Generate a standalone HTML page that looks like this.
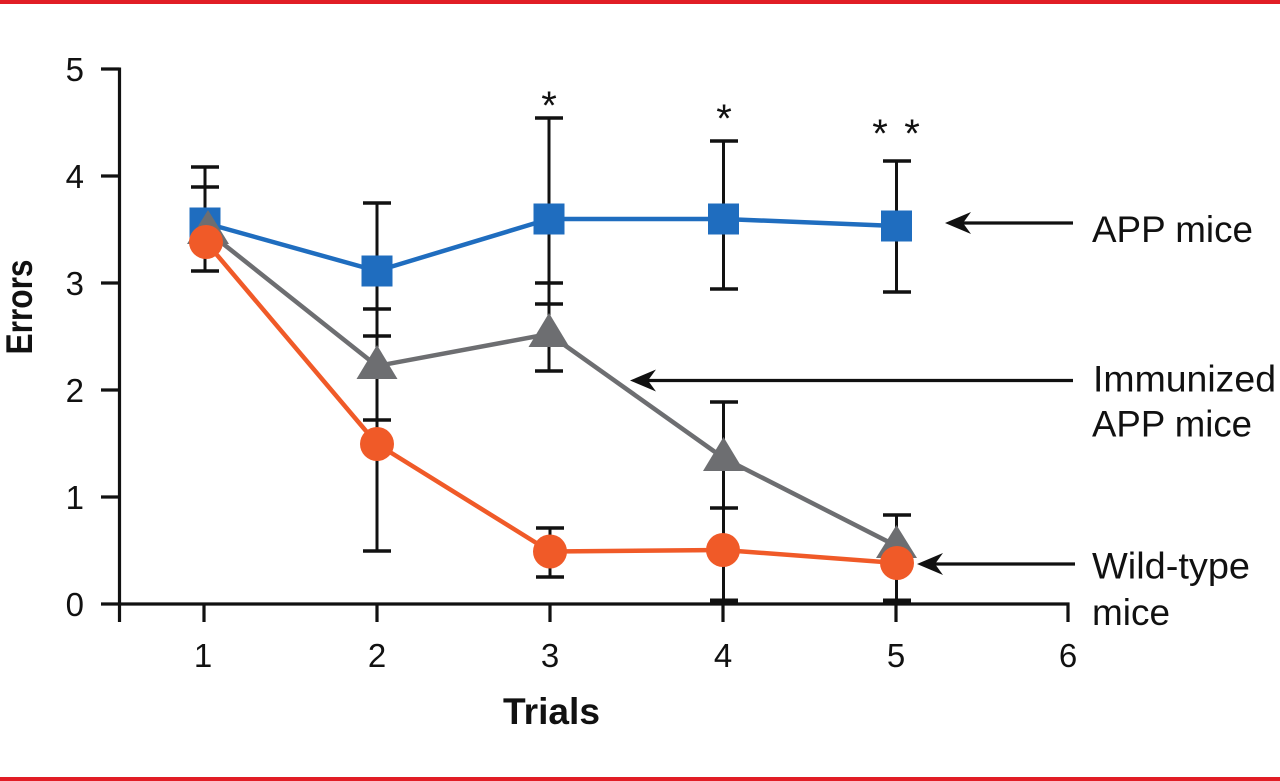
<!DOCTYPE html>
<html>
<head>
<meta charset="utf-8">
<style>
html,body{margin:0;padding:0;background:#fff;}
svg{display:block;}
text{font-family:"Liberation Sans",Arial,sans-serif;fill:#111;}
</style>
</head>
<body>
<svg width="1280" height="781" viewBox="0 0 1280 781" xmlns="http://www.w3.org/2000/svg">
<rect x="0" y="0" width="1280" height="781" fill="#ffffff"/>
<rect x="0" y="0" width="1280" height="4" fill="#e11d25"/>
<rect x="0" y="777" width="1280" height="4" fill="#e11d25"/>

<!-- axes -->
<g stroke="#111" stroke-width="3.2" fill="none" stroke-linecap="butt">
  <line x1="119.5" y1="67.5" x2="119.5" y2="622"/>
  <line x1="101" y1="604" x2="1069.5" y2="604"/>
  <line x1="101" y1="69" x2="119.5" y2="69"/>
  <line x1="101" y1="176" x2="119.5" y2="176"/>
  <line x1="101" y1="283" x2="119.5" y2="283"/>
  <line x1="101" y1="390" x2="119.5" y2="390"/>
  <line x1="101" y1="497" x2="119.5" y2="497"/>
  <line x1="204" y1="604" x2="204" y2="622"/>
  <line x1="377" y1="604" x2="377" y2="622"/>
  <line x1="550" y1="604" x2="550" y2="622"/>
  <line x1="723" y1="604" x2="723" y2="622"/>
  <line x1="896" y1="604" x2="896" y2="622"/>
  <line x1="1068" y1="602.5" x2="1068" y2="622"/>
</g>

<!-- tick labels -->
<g font-size="33" text-anchor="end">
  <text x="84" y="81">5</text>
  <text x="84" y="188">4</text>
  <text x="84" y="295">3</text>
  <text x="84" y="402">2</text>
  <text x="84" y="509">1</text>
  <text x="84" y="616">0</text>
</g>
<g font-size="33" text-anchor="middle">
  <text x="203" y="667">1</text>
  <text x="377" y="667">2</text>
  <text x="550" y="667">3</text>
  <text x="723" y="667">4</text>
  <text x="896" y="667">5</text>
  <text x="1068" y="667">6</text>
</g>

<!-- axis titles -->
<text x="503" y="724" font-size="37" font-weight="bold" textLength="97" lengthAdjust="spacingAndGlyphs">Trials</text>
<text transform="translate(32,307) rotate(-90)" x="0" y="0" font-size="37" font-weight="bold" text-anchor="middle" textLength="95" lengthAdjust="spacingAndGlyphs">Errors</text>

<!-- error bars -->
<g stroke="#111" stroke-width="3" fill="none">
  <!-- trial 1 -->
  <line x1="205" y1="167" x2="205" y2="271"/>
  <line x1="191" y1="167" x2="219" y2="167" stroke-width="3.5"/>
  <line x1="191" y1="187" x2="219" y2="187" stroke-width="3.5"/>
  <line x1="191" y1="271" x2="219" y2="271" stroke-width="3.5"/>
  <!-- trial 2 -->
  <line x1="377" y1="203" x2="377" y2="551"/>
  <line x1="363" y1="203" x2="391" y2="203" stroke-width="3.5"/>
  <line x1="363" y1="309" x2="391" y2="309" stroke-width="3.5"/>
  <line x1="363" y1="336" x2="391" y2="336" stroke-width="3.5"/>
  <line x1="363" y1="420" x2="391" y2="420" stroke-width="3.5"/>
  <line x1="363" y1="551" x2="391" y2="551" stroke-width="3.5"/>
  <!-- trial 3 -->
  <line x1="549" y1="118" x2="549" y2="371"/>
  <line x1="535" y1="118" x2="563" y2="118" stroke-width="3.5"/>
  <line x1="535" y1="283" x2="563" y2="283" stroke-width="3.5"/>
  <line x1="535" y1="304" x2="563" y2="304" stroke-width="3.5"/>
  <line x1="535" y1="371" x2="563" y2="371" stroke-width="3.5"/>
  <line x1="550" y1="528" x2="550" y2="577"/>
  <line x1="536" y1="528" x2="564" y2="528" stroke-width="3.5"/>
  <line x1="536" y1="577" x2="564" y2="577" stroke-width="3.5"/>
  <!-- trial 4 -->
  <line x1="723.5" y1="141" x2="723.5" y2="289"/>
  <line x1="710" y1="141" x2="738" y2="141" stroke-width="3.5"/>
  <line x1="710" y1="289" x2="738" y2="289" stroke-width="3.5"/>
  <line x1="723.5" y1="402" x2="723.5" y2="602"/>
  <line x1="710" y1="402" x2="738" y2="402" stroke-width="3.5"/>
  <line x1="710" y1="508" x2="738" y2="508" stroke-width="3.5"/>
  <line x1="710" y1="601" x2="738" y2="601" stroke-width="5"/>
  <!-- trial 5 -->
  <line x1="896.5" y1="161" x2="896.5" y2="292"/>
  <line x1="883" y1="161" x2="911" y2="161" stroke-width="3.5"/>
  <line x1="883" y1="292" x2="911" y2="292" stroke-width="3.5"/>
  <line x1="896.5" y1="515" x2="896.5" y2="602"/>
  <line x1="883" y1="515" x2="911" y2="515" stroke-width="3.5"/>
  <line x1="883" y1="601" x2="911" y2="601" stroke-width="5"/>
</g>

<!-- asterisks -->
<g font-size="40" text-anchor="middle">
  <text x="549" y="119">*</text>
  <text x="724" y="132">*</text>
  <text x="880" y="147">*</text>
  <text x="912" y="147">*</text>
</g>

<!-- series lines -->
<polyline points="205,223 377,271 549,219 723.5,219 896.5,226" fill="none" stroke="#1f6dbf" stroke-width="4.5" stroke-linejoin="round"/>
<polyline points="207,231 377,366 549,334 723.5,458 896.5,546" fill="none" stroke="#6d6e71" stroke-width="4.5" stroke-linejoin="round"/>
<polyline points="206,242 377,444 550,551.5 723,550 897,563" fill="none" stroke="#f05a28" stroke-width="4.5" stroke-linejoin="round"/>

<!-- blue squares -->
<g fill="#1f6dbf">
  <rect x="189.5" y="207.5" width="31" height="31"/>
  <rect x="361.5" y="255.5" width="31" height="31"/>
  <rect x="533.5" y="203.5" width="31" height="31"/>
  <rect x="708" y="203.5" width="31" height="31"/>
  <rect x="881" y="210.5" width="31" height="31"/>
</g>
<!-- gray triangles -->
<g fill="#6d6e71">
  <polygon points="208,210 229,244 187,244"/>
  <polygon points="377,345 397.5,379 356.5,379"/>
  <polygon points="549,313 569.5,347 528.5,347"/>
  <polygon points="723.5,437 744,471 703,471"/>
  <polygon points="896.5,525 917,558 876,558"/>
</g>
<!-- orange circles -->
<g fill="#f05a28">
  <circle cx="206" cy="242" r="17"/>
  <circle cx="377" cy="444" r="17"/>
  <circle cx="550" cy="551.5" r="17"/>
  <circle cx="723" cy="550" r="17"/>
  <circle cx="897" cy="563" r="17"/>
</g>

<!-- arrows -->
<g stroke="#111" stroke-width="3.2">
  <line x1="960" y1="223" x2="1073" y2="223"/>
  <line x1="645" y1="380.5" x2="1073" y2="380.5"/>
  <line x1="932" y1="564" x2="1075" y2="564"/>
</g>
<g fill="#111">
  <path d="M945,223 L971,212 L963,223 L971,234 Z"/>
  <path d="M630,380.5 L656,369.5 L648,380.5 L656,391.5 Z"/>
  <path d="M917,564 L943,553 L935,564 L943,575 Z"/>
</g>

<!-- legend labels -->
<g font-size="37">
  <text x="1092" y="242" textLength="161" lengthAdjust="spacingAndGlyphs">APP mice</text>
  <text x="1093" y="391.5" textLength="183" lengthAdjust="spacingAndGlyphs">Immunized</text>
  <text x="1092" y="436.5" textLength="160" lengthAdjust="spacingAndGlyphs">APP mice</text>
  <text x="1092" y="578.5" textLength="158" lengthAdjust="spacingAndGlyphs">Wild-type</text>
  <text x="1092" y="625" textLength="78" lengthAdjust="spacingAndGlyphs">mice</text>
</g>
</svg>
</body>
</html>
